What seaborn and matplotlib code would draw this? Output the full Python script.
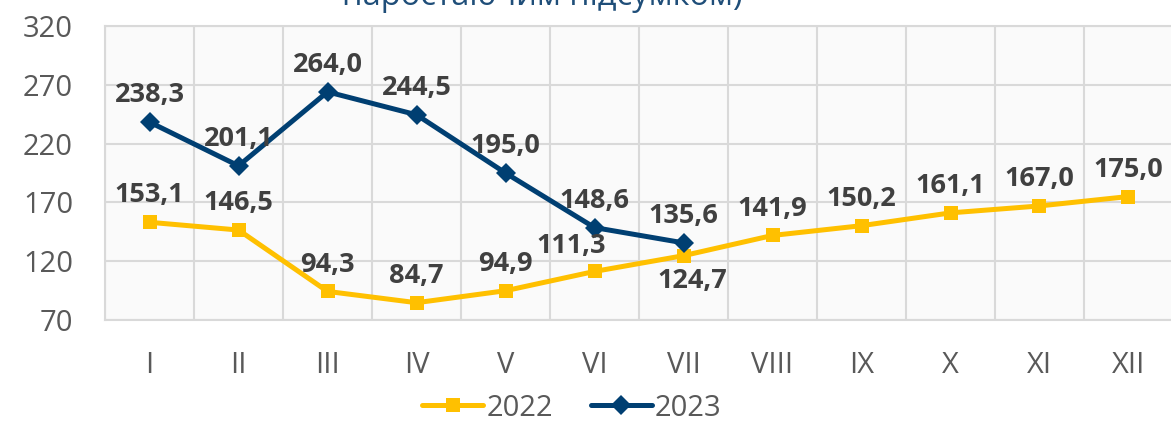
import matplotlib
matplotlib.use("Agg")
import matplotlib.pyplot as plt
import pandas as pd
import seaborn as sns
from matplotlib.ticker import FixedLocator

months = ["I", "II", "III", "IV", "V", "VI", "VII", "VIII", "IX", "X", "XI", "XII"]
values_2022 = [153.1, 146.5, 94.3, 84.7, 94.9, 111.3, 124.7, 141.9, 150.2, 161.1, 167.0, 175.0]
values_2023 = [238.3, 201.1, 264.0, 244.5, 195.0, 148.6, 135.6]
y_ticks = [70, 120, 170, 220, 270, 320]

C22 = "#FFC000"
C23 = "#003F72"
GRID = "#D9D9D9"
TXT = "#404040"

df = pd.concat([
    pd.DataFrame({"month": range(len(values_2022)), "value": values_2022, "year": "2022"}),
    pd.DataFrame({"month": range(len(values_2023)), "value": values_2023, "year": "2023"}),
])

sns.set_theme(style="white")
plt.rcParams["font.family"] = ["Open Sans", "DejaVu Sans"]

fig = plt.figure(figsize=(11.71, 4.23), dpi=100)
ax = fig.add_axes([0.0897, 0.2435, 0.912, 0.695])
ax.set_facecolor("#FAFAFA")

sns.lineplot(data=df, x="month", y="value", hue="year", style="year",
             palette={"2022": C22, "2023": C23},
             markers={"2022": "s", "2023": "D"}, dashes=False,
             linewidth=3.6, markersize=10, markeredgewidth=0,
             ax=ax, zorder=3)

ax.set_xlim(-0.5, 11.5)
ax.set_ylim(70, 320)
ax.yaxis.set_major_locator(FixedLocator(y_ticks))
ax.set_xticks(range(12))
ax.set_xticklabels(months)
ax.xaxis.set_minor_locator(FixedLocator([i + 0.5 for i in range(-1, 12)]))
ax.grid(True, which="minor", axis="x", color=GRID, lw=1.5)
ax.grid(True, which="major", axis="y", color=GRID, lw=1.5)
ax.tick_params(axis="x", which="both", length=0, pad=22, labelsize=21, labelcolor="#595959")
ax.tick_params(axis="y", length=0, pad=23, labelsize=21, labelcolor="#595959")
for s in ["left", "bottom", "top"]:
    ax.spines[s].set_color(GRID)
    ax.spines[s].set_linewidth(1.5)
ax.spines["right"].set_visible(False)
ax.set_xlabel("")
ax.set_ylabel("")

def fmt(v):
    return f"{v:.1f}".replace(".", ",")

off22 = {5: (-17, 9), 6: (6, -9)}
for i, v in enumerate(values_2022):
    dx, dy = off22.get(i, (0, 10))
    ax.annotate(fmt(v), (i, v), xytext=(dx, dy), textcoords="offset points",
                ha="center", va="bottom" if dy > 0 else "top",
                fontsize=19.5, fontweight="bold", color=TXT, zorder=5)
for i, v in enumerate(values_2023):
    ax.annotate(fmt(v), (i, v), xytext=(0, 10), textcoords="offset points",
                ha="center", va="bottom", fontsize=19.5, fontweight="bold",
                color=TXT, zorder=5)

handles, labels = ax.get_legend_handles_labels()
ax.legend(handles, labels, loc="center", bbox_to_anchor=(0.5 - 0.0897 / 2 - 0.018, -0.3),
          ncol=2, frameon=False, fontsize=21, handlelength=2.1, columnspacing=1.3,
          handletextpad=0.1, labelcolor="#595959", borderpad=0.1)

fig.text(0.463, 1.008, "наростаючим підсумком)", ha="center", va="center",
         fontsize=23.5, color="#1F4E79")

fig.savefig("out.png", dpi=100)
